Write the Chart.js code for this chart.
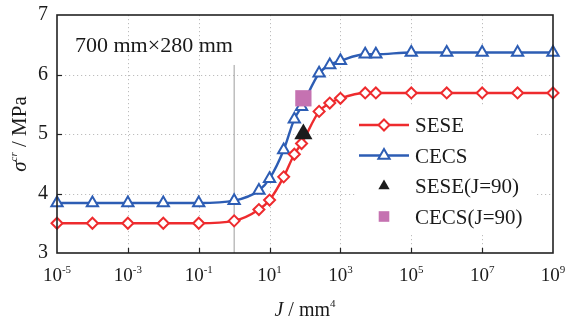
<!DOCTYPE html>
<html>
<head>
<meta charset="utf-8">
<script src="https://cdn.jsdelivr.net/npm/chart.js"></script>
<style>
  html, body { margin: 0; padding: 0; background: #fff; }
</style>
</head>
<body>
<canvas id="chart" width="566" height="320"></canvas>
<script>
// J values (mm^4) where the curves were computed
const jValues = [1e-5, 1e-4, 1e-3, 1e-2, 1e-1, 1, 5, 10, 25, 50, 80, 250, 500, 1000, 5000, 1e4, 1e5, 1e6, 1e7, 1e8, 1e9];
const seseValues = [3.5, 3.5, 3.5, 3.5, 3.5, 3.54, 3.73, 3.89, 4.28, 4.66, 4.84, 5.38, 5.52, 5.6, 5.69, 5.69, 5.69, 5.69, 5.69, 5.69, 5.69];
const cecsValues = [3.84, 3.84, 3.84, 3.84, 3.84, 3.88, 4.05, 4.25, 4.73, 5.25, 5.46, 6.02, 6.16, 6.23, 6.34, 6.34, 6.37, 6.37, 6.37, 6.37, 6.37];

// single reference points at J = 90
const refJ = [90];
const seseRef = [5.0];
const cecsRef = [5.6];

// thin vertical guide at J = 1
const guideJ = [1, 1];
const guideY = [3, 6.16];

const xTicks = [1e-5, 1e-3, 1e-1, 1e1, 1e3, 1e5, 1e7, 1e9];
const yTicks = [3, 4, 5, 6, 7];
const seriesNames = ["SESE", "CECS", "SESE(J=90)", "CECS(J=90)"];
const boxLabel = "700 mm\u00d7280 mm";

const SERIF = '"Liberation Serif", "Times New Roman", serif';
const RED = "#ee2b2e", BLUE = "#2d5db4", PINK = "#c572b1", BLACK = "#1c1c1c";
const TEXT = "#1a1a1a";

const toPoints = (xs, ys) => xs.map((x, i) => ({ x, y: ys[i] }));

function marker(ctx, style, r, x, y, fill, stroke, lw) {
    ctx.beginPath();
    if (style === "rectRot") {
        ctx.moveTo(x, y - r); ctx.lineTo(x + r, y); ctx.lineTo(x, y + r); ctx.lineTo(x - r, y);
    } else if (style === "triangle") {
        const h = r * Math.sqrt(3) / 2;
        ctx.moveTo(x, y - r); ctx.lineTo(x + h, y + r / 2); ctx.lineTo(x - h, y + r / 2);
    } else {
        const s = r * Math.SQRT1_2;
        ctx.rect(x - s, y - s, 2 * s, 2 * s);
    }
    ctx.closePath();
    if (fill) { ctx.fillStyle = fill; ctx.fill(); }
    if (lw) { ctx.strokeStyle = stroke; ctx.lineWidth = lw; ctx.stroke(); }
}

// draw [text, font, raise] pieces one after another from x
function drawPieces(ctx, pieces, x, y) {
    pieces.forEach(p => {
        ctx.font = p[1];
        ctx.fillText(p[0], x, y - (p[2] || 0));
        x += ctx.measureText(p[0]).width;
    });
}
function piecesWidth(ctx, pieces) {
    return pieces.reduce((w, p) => { ctx.font = p[1]; return w + ctx.measureText(p[0]).width; }, 0);
}

const decor = {
    id: "decor",
    beforeDatasetsDraw(chart) {
        const { ctx, chartArea: a, scales: { x, y } } = chart;
        ctx.save();
        ctx.strokeStyle = "#bdbdbd";
        ctx.lineWidth = 1;
        ctx.setLineDash([1.2, 2.8]);
        xTicks.slice(1, -1).forEach(v => {
            const px = Math.round(x.getPixelForValue(v)) + 0.5;
            ctx.beginPath(); ctx.moveTo(px, a.top); ctx.lineTo(px, a.bottom); ctx.stroke();
        });
        yTicks.slice(1, -1).forEach(v => {
            const py = Math.round(y.getPixelForValue(v)) + 0.5;
            ctx.beginPath(); ctx.moveTo(a.left, py); ctx.lineTo(a.right, py); ctx.stroke();
        });
        ctx.restore();
    },
    afterDatasetsDraw(chart) {
        const { ctx, chartArea: a } = chart;
        const ds = chart.data.datasets;
        // legend, in the right half of the plot
        const lx = a.right - 196, ly = a.top + 110;
        ctx.save();
        ctx.fillStyle = "#fff";
        ctx.fillRect(lx, ly - 18, 180, 128);
        const entries = [ds[2], ds[3], ds[1], ds[0]];
        entries.forEach((d, i) => {
            const yy = ly + i * 30.5;
            if (d.showLine !== false) {
                ctx.strokeStyle = d.borderColor; ctx.lineWidth = d.borderWidth;
                ctx.beginPath(); ctx.moveTo(lx + 2, yy); ctx.lineTo(lx + 52, yy); ctx.stroke();
                marker(ctx, d.pointStyle, d.pointRadius, lx + 27, yy, "#fff", d.borderColor, d.pointBorderWidth);
            } else {
                marker(ctx, d.pointStyle, d.legendRadius, lx + 27, yy, d.backgroundColor, null, 0);
            }
            ctx.fillStyle = TEXT;
            ctx.font = "21px " + SERIF;
            ctx.textBaseline = "alphabetic";
            ctx.fillText(d.label, lx + 58, yy + 7);
        });
        ctx.restore();
    },
    afterDraw(chart) {
        const { ctx, chartArea: a, scales: { x, y } } = chart;
        ctx.save();
        // frame
        ctx.strokeStyle = "#222"; ctx.lineWidth = 1.6;
        ctx.strokeRect(a.left, a.top, a.right - a.left, a.bottom - a.top);
        // inward tick marks
        ctx.lineWidth = 1.2;
        xTicks.slice(1, -1).forEach(v => {
            const px = Math.round(x.getPixelForValue(v)) + 0.5;
            ctx.beginPath(); ctx.moveTo(px, a.bottom); ctx.lineTo(px, a.bottom - 5); ctx.stroke();
        });
        yTicks.slice(1, -1).forEach(v => {
            const py = Math.round(y.getPixelForValue(v)) + 0.5;
            ctx.beginPath(); ctx.moveTo(a.left, py); ctx.lineTo(a.left + 5, py); ctx.stroke();
        });
        ctx.fillStyle = TEXT;
        ctx.textBaseline = "alphabetic";
        ctx.textAlign = "left";
        // x tick labels 10^n
        xTicks.forEach(v => {
            const p = [["10", "19px " + SERIF, 0], [String(Math.round(Math.log10(v))), "11px " + SERIF, 8]];
            const w = piecesWidth(ctx, p);
            drawPieces(ctx, p, x.getPixelForValue(v) - w / 2, a.bottom + 28);
        });
        // x title
        const xt = [["J", "italic 20px " + SERIF, 0], [" / mm", "20px " + SERIF, 0], ["4", "11px " + SERIF, 9]];
        drawPieces(ctx, xt, (a.left + a.right) / 2 - piecesWidth(ctx, xt) / 2, 316);
        // y title, rotated
        const yt = [["\u03c3", "italic 21px " + SERIF, 0], ["cr", "italic 11px " + SERIF, 9], [" / MPa", "21px " + SERIF, 0]];
        ctx.save();
        ctx.translate(26, 134);
        ctx.rotate(-Math.PI / 2);
        drawPieces(ctx, yt, -piecesWidth(ctx, yt) / 2, 0);
        ctx.restore();
        // size note
        ctx.font = "22px " + SERIF;
        ctx.fillText(boxLabel, a.left + 18, a.top + 37);
        ctx.restore();
    }
};

new Chart(document.getElementById("chart"), {
    type: "line",
    data: {
        datasets: [
            {
                label: seriesNames[3], data: toPoints(refJ, cecsRef), showLine: false,
                pointStyle: "rect", pointRadius: 11.5, legendRadius: 7.5, pointBorderWidth: 0,
                backgroundColor: PINK, borderColor: PINK, clip: false
            },
            {
                label: seriesNames[2], data: toPoints(refJ, seseRef), showLine: false,
                pointStyle: "triangle", pointRadius: 10.5, legendRadius: 6.5, pointBorderWidth: 0,
                backgroundColor: BLACK, borderColor: BLACK, clip: false
            },
            {
                label: seriesNames[0], data: toPoints(jValues, seseValues),
                borderColor: RED, borderWidth: 2.4, cubicInterpolationMode: "monotone",
                pointStyle: "rectRot", pointRadius: 5.5, pointBorderWidth: 2,
                pointBackgroundColor: "#fff", pointBorderColor: RED, clip: false
            },
            {
                label: seriesNames[1], data: toPoints(jValues, cecsValues),
                borderColor: BLUE, borderWidth: 2.4, cubicInterpolationMode: "monotone",
                pointStyle: "triangle", pointRadius: 6.5, pointBorderWidth: 2,
                pointBackgroundColor: "#fff", pointBorderColor: BLUE, clip: false
            },
            {
                label: "guide", data: toPoints(guideJ, guideY),
                borderColor: "#9c9c9c", borderWidth: 1, pointRadius: 0
            }
        ]
    },
    options: {
        responsive: false,
        animation: false,
        events: [],
        layout: { padding: { left: 0, right: 13, top: 15, bottom: 0 } },
        plugins: { legend: { display: false }, tooltip: { enabled: false } },
        scales: {
            x: {
                type: "logarithmic", min: 1e-5, max: 1e9,
                afterBuildTicks: s => { s.ticks = xTicks.map(v => ({ value: v })); },
                grid: { display: false, drawTicks: false },
                border: { display: false },
                ticks: { display: false },
                afterFit: s => { s.height = 67; s.paddingLeft = 0; s.paddingRight = 0; }
            },
            y: {
                min: 3, max: 7,
                afterBuildTicks: s => { s.ticks = yTicks.map(v => ({ value: v })); },
                grid: { display: false, drawTicks: false },
                border: { display: false },
                ticks: { font: { family: SERIF, size: 20 }, color: TEXT, padding: 9 },
                afterFit: s => { s.width = 57; s.paddingTop = 0; s.paddingBottom = 0; }
            }
        }
    },
    plugins: [decor]
});
</script>
</body>
</html>
